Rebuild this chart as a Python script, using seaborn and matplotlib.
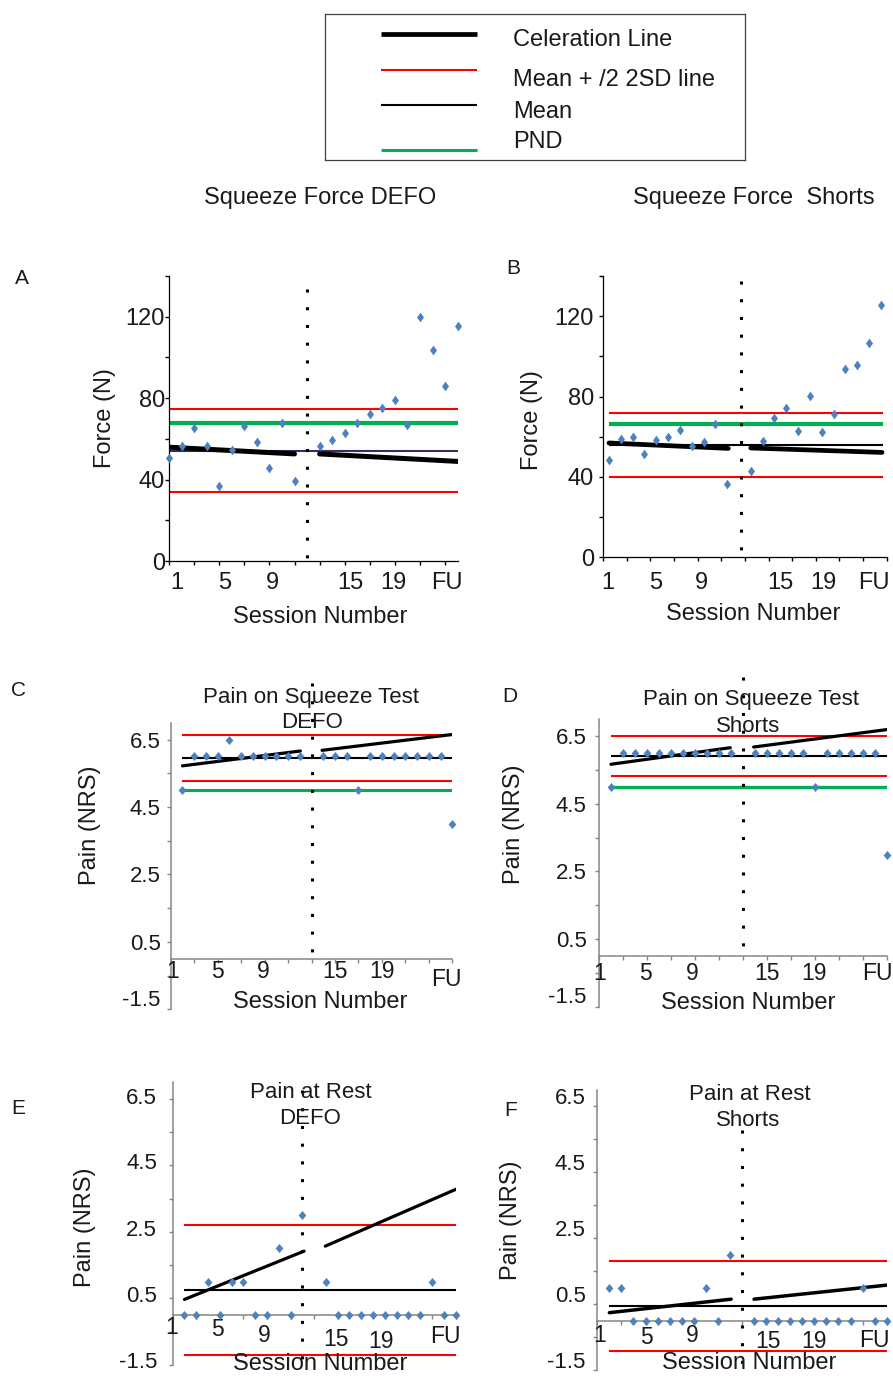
import numpy as np
import pandas as pd
import matplotlib
matplotlib.use("Agg")
import matplotlib.pyplot as plt
import matplotlib.transforms as mtransforms
import seaborn as sns

sns.set_theme(style="white")
plt.rcParams["font.family"] = ["Liberation Sans", "DejaVu Sans"]

# ---------------- data ----------------
sessions = [1, 2, 3, 4, 5, 6, 7, 8, 9, 10, 11, 13, 14, 15, 16, 17, 18, 19, 20, 21, 22, 23, 24]

force_defo = [50.8, 56.4, 65.4, 56.6, 37.0, 54.3, 66.5, 58.4, 45.6, 67.8, 39.2,
              56.7, 59.5, 62.8, 67.8, 72.3, 75.0, 79.1, 67.0, 120.0, 103.8, 85.8, 115.4]
force_shorts = [48.2, 59.0, 60.0, 51.4, 58.2, 59.7, 63.2, 55.4, 57.4, 66.5, 36.5,
                43.1, 58.0, 69.1, 74.4, 63.0, 80.4, 62.3, 71.1, 93.8, 95.5, 106.7, 125.8]
pain_squeeze_defo = [5, 6, 6, 6, 6.5, 6, 6, 6, 6, 6, 6,
                     6, 6, 6, 5, 6, 6, 6, 6, 6, 6, 6, 4]
pain_squeeze_shorts = [5, 6, 6, 6, 6, 6, 6, 6, 6, 6, 6,
                       6, 6, 6, 6, 6, 5, 6, 6, 6, 6, 6, 3]
pain_rest_defo = [0, 0, 1, 0, 1, 1, 0, 0, 2, 0, 3,
                  1, 0, 0, 0, 0, 0, 0, 0, 0, 1, 0, 0]
pain_rest_shorts = [1, 1, 0, 0, 0, 0, 0, 0, 1, 0, 2,
                    0, 0, 0, 0, 0, 0, 0, 0, 0, 1, 0, 0]

# reference lines: upper 2SD, lower 2SD, mean, PND
ref_A = [74.9, 33.7, 54.1, 67.8]
ref_B = [71.8, 39.8, 55.9, 66.5]
ref_C = [6.63, 5.26, 5.94, 5.0]
ref_D = [6.5, 5.31, 5.9, 5.0]
ref_E = [2.71, -1.2, 0.75, None]
ref_F = [1.8, -0.91, 0.43, None]

# celeration lines: (x0, x1, y0, y1) for baseline and intervention phases
cel_A = [(1, 11, 55.9, 52.6), (13, 24.05, 52.6, 48.9)]
cel_B = [(1, 11.1, 56.9, 54.2), (13, 24.1, 54.4, 52.2)]
cel_C = [(1, 11.05, 5.72, 6.16), (12.9, 24, 6.18, 6.65)]
cel_D = [(1, 10.95, 5.67, 6.16), (12.9, 24.1, 6.18, 6.7)]
cel_E = [(1, 11.15, 0.47, 1.92), (12.95, 24.05, 2.07, 3.78)]
cel_F = [(1, 11.1, 0.24, 0.65), (13.0, 24.1, 0.65, 1.08)]

# phase-change session
phase_A, phase_B, phase_C, phase_D, phase_E, phase_F = 12, 12.2, 12, 12, 11, 12

xtick_labels = ["1", "5", "9", "15", "19", "FU"]

# ---------------- figure ----------------
W, H = 893, 1378
fig = plt.figure(figsize=(W / 100, H / 100), dpi=100)

BLUE = "#4F81BD"
RED = "#FF0000"
GREEN = "#00B050"
GREY = "#868686"
FS = 17


def add_ax(l, t, r, b):
    return fig.add_axes([l / W, 1 - b / H, (r - l) / W, (b - t) / H])


def ftext(s, x, y, size=FS, **kw):
    fig.text(x / W, 1 - y / H, s, ha="center", va="center", fontsize=size,
             color="#1a1a1a", **kw)


def panel(rect, vals, ref, cel, phase, phase_span, xlim, ylim, line_span,
          xlab_pos, xlab_y, yticks, ylabels, ypad, minor_x,
          grey_axes, mean_color="black", cel_lw=2.2, green_lw=2.1, marker_h=6.5,
          marker_w=0.43, ylab_shift=None):
    ax = add_ax(*rect)
    ax.set_facecolor("none")
    ax.set_xlim(*xlim)
    ax.set_ylim(*ylim)
    for s in ["top", "right"]:
        ax.spines[s].set_visible(False)
    spc = GREY if grey_axes else "black"
    for s in ["left", "bottom"]:
        ax.spines[s].set_color(spc)
        ax.spines[s].set_linewidth(1.1 if grey_axes else 0.9)
    if grey_axes:
        ax.spines["bottom"].set_position(("data", 0))
    # reference lines
    x0, x1 = line_span
    up, lo, mean, pnd = ref
    ax.hlines([up, lo], x0, x1, colors=RED, lw=1.5, zorder=2)
    if pnd is not None:
        ax.hlines(pnd, x0, x1, colors=GREEN, lw=green_lw, zorder=2)
    ax.hlines(mean, x0, x1, colors=mean_color, lw=1.5, zorder=2)
    # celeration lines
    for (a, b, c, d) in cel:
        df = pd.DataFrame({"x": [a, b], "y": [c, d]})
        sns.lineplot(data=df, x="x", y="y", ax=ax, color="black", lw=cel_lw,
                     zorder=3, legend=False)
    # phase-change line
    ax.plot([phase, phase], phase_span, color="black", lw=2.2,
            linestyle=(0, (1, 4.8)), dash_capstyle="butt", clip_on=False, zorder=4)
    # data points
    verts = [(-marker_w, 0), (0, 0.5), (marker_w, 0), (0, -0.5), (-marker_w, 0)]
    df = pd.DataFrame({"session": sessions, "value": vals})
    sns.scatterplot(data=df, x="session", y="value", ax=ax, marker=verts,
                    s=marker_h ** 2, color=BLUE, linewidth=0, zorder=5,
                    clip_on=False, legend=False)
    # axes ticks
    ax.set_xlabel("")
    ax.set_ylabel("")
    ax.set_yticks(yticks)
    ax.set_yticklabels(ylabels, fontsize=FS if not grey_axes else 16, color="#1a1a1a")
    ax.tick_params(axis="y", left=True, length=3, width=1, color=spc, pad=ypad,
                   direction="out")
    if ylab_shift is not None:
        for lab, dy in zip(ax.get_yticklabels(), ylab_shift):
            lab.set_transform(lab.get_transform() +
                              mtransforms.ScaledTranslation(0, dy / 100, fig.dpi_scale_trans))
    ax.set_xticks([])
    ax.set_xticks(minor_x, minor=True)
    ax.tick_params(axis="x", which="minor", bottom=True, length=3, width=1,
                   color=spc, direction="out")
    # x tick labels (placed as in the original chart)
    tr = mtransforms.blended_transform_factory(ax.transData, fig.transFigure)
    for lab, xp, yp in zip(xtick_labels, xlab_pos, xlab_y):
        ax.text(xp, 1 - yp / H, lab, transform=tr, ha="center", va="center",
                fontsize=FS if not grey_axes else 16.5, color="#1a1a1a",
                clip_on=False)
    return ax


yt_force = list(range(0, 141, 20))
yl_force = [str(v) if v % 40 == 0 else "" for v in yt_force]
yt_pain = list(np.arange(-1.5, 7.0, 1.0))
yl_pain = [("%.1f" % v) if i % 2 == 0 else "" for i, v in enumerate(yt_pain)]

# Panel A
panel((169, 276, 458.3, 561), force_defo, ref_A, cel_A, phase_A, (133.6, -2),
      (1, 24.05), (0, 140), (1, 24.05),
      [1.6, 5.45, 9.26, 15.43, 18.84, 23.1], [583] * 6,
      yt_force, yl_force, 0, np.arange(1, 24, 2), False,
      mean_color="#3B2A66", cel_lw=3.6, green_lw=3.0, marker_h=7.0, marker_w=0.36)
# Panel B
panel((602.7, 276, 886.7, 557.3), force_shorts, ref_B, cel_B, phase_B, (137.7, 0),
      (0.47, 24.5), (0, 140), (1, 24.15),
      [0.89, 4.95, 8.85, 15.48, 19.15, 23.38], [583] * 6,
      yt_force, yl_force, 3.4, np.arange(0.5, 25, 2), False,
      cel_lw=3.4, green_lw=3.0, marker_h=7.0, marker_w=0.36)
# Panel C
panel((170.7, 722.7, 452.3, 1009.3), pain_squeeze_defo, ref_C, cel_C, phase_C, (8.19, 0),
      (0, 24), (-1.5, 7), (1, 24),
      [0.15, 3.98, 7.9, 14.0, 18.05, 23.5], [971.7] * 5 + [980],
      yt_pain, yl_pain, 4.3, np.arange(0, 25, 2), True,
      cel_lw=2.3, green_lw=2.2, ylab_shift=[11, 0, 0, 0, 0, 0, 0, 0, 0])
# Panel D
panel((599, 719.3, 886.7, 1006.7), pain_squeeze_shorts, ref_D, cel_D, phase_D, (8.26, 0),
      (0, 24), (-1.5, 7), (1, 24.1),
      [0.05, 3.9, 7.77, 14.0, 17.9, 23.2], [973] * 6,
      yt_pain, yl_pain, 5.8, np.arange(0, 25, 2), True,
      cel_lw=2.3, green_lw=2.4, ylab_shift=[12, 0, 0, 0, 0, 0, 0, 0, 0])
# Panel E
panel((172.7, 1082, 455.5, 1365), pain_rest_defo, ref_E, cel_E, phase_E, (6.76, -1.65),
      (0, 24), (-1.5, 7), (1, 24.05),
      [-0.1, 3.8, 7.76, 13.9, 17.7, 23.1], [1328, 1329, 1335, 1339, 1342, 1336.7],
      yt_pain, yl_pain, 8.2, np.arange(0, 25, 2), True,
      cel_lw=2.3, ylab_shift=[5, 4, 4, 4, 4, 4, 4, 4, 3])
# Panel F
panel((597.3, 1090, 886.7, 1370), pain_rest_shorts, ref_F, cel_F, phase_F, (5.78, -1.6),
      (0, 24), (-1.5, 7), (1, 24.05),
      [0.2, 4.06, 7.9, 14.15, 18.0, 23.0], [1335, 1337, 1336, 1341.7, 1341.7, 1340.7],
      yt_pain, yl_pain, 5.3, np.arange(0, 25, 2), True,
      cel_lw=2.5, ylab_shift=[10] * 9)

# ---------------- titles and labels ----------------
ftext("Squeeze Force DEFO", 320, 198)
ftext("Squeeze Force  Shorts", 754, 198)
for s, x, y in [("A", 22, 278), ("B", 513, 268), ("C", 18, 690), ("D", 510, 697),
                ("E", 18, 1108), ("F", 511, 1110)]:
    ftext(s, x, y, size=15)
for x, y in [(320, 617), (753, 614), (320, 1002), (748, 1003), (320, 1364), (749, 1363)]:
    ftext("Session Number", x, y)
ftext("Force (N)", 105, 418, rotation=90)
ftext("Force (N)", 532, 420, rotation=90)
for x, y in [(90, 825), (514, 824), (85, 1227), (511, 1220)]:
    ftext("Pain (NRS)", x, y, rotation=90)
for s, x, y in [("Pain on Squeeze Test", 311, 697), ("DEFO", 312, 722),
                ("Pain on Squeeze Test", 751, 699), ("Shorts", 748, 726),
                ("Pain at Rest", 311, 1092), ("DEFO", 310, 1119),
                ("Pain at Rest", 750, 1094), ("Shorts", 748, 1121)]:
    ftext(s, x, y, size=16)

# ---------------- legend box ----------------
lg = add_ax(325, 14, 745, 160)
lg.set_xlim(325, 745)
lg.set_ylim(160, 14)
lg.set_xticks([])
lg.set_yticks([])
lg.set_facecolor("white")
for s in lg.spines.values():
    s.set_color("#404040")
    s.set_linewidth(0.9)
legend_items = [("Celeration Line", "black", 3.4, 34, 40),
                ("Mean + /2 2SD line", RED, 1.5, 70, 80),
                ("Mean", "black", 1.5, 105, 112),
                ("PND", GREEN, 2.2, 150, 141.5)]
for lab, col, lw, ly, ty in legend_items:
    lg.plot([381, 477], [ly, ly], color=col, lw=lw, solid_capstyle="butt")
    lg.text(513, ty, lab, ha="left", va="center", fontsize=FS, color="#1a1a1a")

fig.savefig("out.png", dpi=100)
